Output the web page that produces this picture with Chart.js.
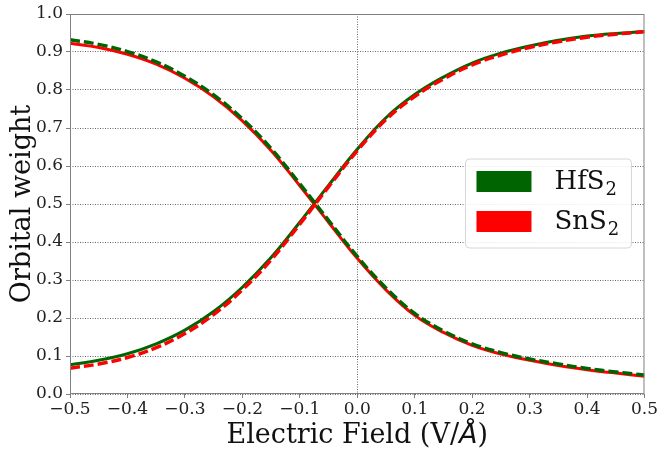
<!DOCTYPE html>
<html>
<head>
<meta charset="utf-8">
<script src="https://cdn.jsdelivr.net/npm/chart.js@4.4.1/dist/chart.umd.min.js"></script>
<style>
    html, body { margin: 0; padding: 0; background: #fff; }
    #wrap { width: 659px; height: 451px; }
</style>
</head>
<body>
<div id="wrap"><canvas id="weightChart" width="659" height="451"></canvas></div>
<script>
// 전기장 (V/Å)
const fields = [-0.5, -0.45, -0.4, -0.35, -0.3, -0.25, -0.2, -0.15, -0.1, -0.05, 0.0,
    0.05, 0.1, 0.15, 0.2, 0.25, 0.3, 0.35, 0.4, 0.45, 0.5];

// 오비탈 가중치 (실선 / 점선)
const hfsRise = [0.077, 0.089, 0.106, 0.132, 0.168, 0.217, 0.281, 0.359, 0.452, 0.549, 0.644,
    0.727, 0.788, 0.834, 0.871, 0.897, 0.916, 0.931, 0.942, 0.949, 0.954];
const snsFall = [0.923, 0.912, 0.894, 0.868, 0.831, 0.782, 0.719, 0.641, 0.548, 0.452, 0.357,
    0.274, 0.207, 0.162, 0.128, 0.105, 0.089, 0.075, 0.064, 0.055, 0.047];
const snsRise = [0.068, 0.079, 0.096, 0.122, 0.159, 0.209, 0.274, 0.353, 0.447, 0.545, 0.640,
    0.722, 0.783, 0.829, 0.866, 0.892, 0.912, 0.927, 0.939, 0.947, 0.953];
const hfsFall = [0.932, 0.920, 0.901, 0.874, 0.836, 0.787, 0.724, 0.646, 0.553, 0.457, 0.362,
    0.279, 0.212, 0.166, 0.132, 0.109, 0.092, 0.079, 0.067, 0.058, 0.050];

const yTicks = [0.0, 0.1, 0.2, 0.3, 0.4, 0.5, 0.6, 0.7, 0.8, 0.9, 1.0];
const legendNames = ['HfS', 'SnS'];

const GREEN = '#006400';
const RED = '#ff0000';
const SERIF = "'DejaVu Serif', serif";

// x, y 배열을 차트 포인트로 변환
function toPoints(ys) {
    return fields.map((x, i) => ({ x: x, y: ys[i] }));
}

function lineSet(label, ys, color, dashed, order) {
    return {
        label: label,
        data: toPoints(ys),
        borderColor: color,
        backgroundColor: color,
        borderWidth: dashed ? 3.5 : 3,
        borderDash: dashed ? [10, 4] : [],
        pointRadius: 0,
        tension: 0.4,
        fill: false,
        order: order
    };
}

// 프레임, 축 제목, 범례 그리기
const decorPlugin = {
    id: 'decor',
    afterDraw(chart) {
        const ctx = chart.ctx;
        const area = chart.chartArea;
        ctx.save();

        // 테두리
        ctx.strokeStyle = '#808080';
        ctx.lineWidth = 1;
        ctx.setLineDash([]);
        ctx.strokeRect(area.left + 0.5, area.top + 0.5, area.right - area.left - 1, area.bottom - area.top - 1);

        // x축 제목 (Å 은 이탤릭)
        ctx.fillStyle = '#111';
        ctx.textBaseline = 'alphabetic';
        ctx.textAlign = 'left';
        const serifFont = '27px ' + SERIF;
        const italicFont = "italic 27px 'DejaVu Sans', sans-serif";
        ctx.font = serifFont;
        const p1 = 'Electric Field (V/';
        const p3 = ')';
        const w1 = ctx.measureText(p1).width;
        const w3 = ctx.measureText(p3).width;
        ctx.font = italicFont;
        const w2 = ctx.measureText('Å').width;
        let x = (area.left + area.right) / 2 - (w1 + w2 + w3) / 2;
        const baseY = 443;
        ctx.font = serifFont;
        ctx.fillText(p1, x, baseY);
        ctx.font = italicFont;
        ctx.fillText('Å', x + w1, baseY);
        ctx.font = serifFont;
        ctx.fillText(p3, x + w1 + w2, baseY);

        // y축 제목
        ctx.save();
        ctx.translate(30, (area.top + area.bottom) / 2);
        ctx.rotate(-Math.PI / 2);
        ctx.textAlign = 'center';
        ctx.font = serifFont;
        ctx.fillText('Orbital weight', 0, 0);
        ctx.restore();

        // 범례 박스
        const bx = area.right - 179;
        const by = area.top + 145;
        const bw = 166;
        const bh = 89;
        const r = 4;
        ctx.beginPath();
        ctx.moveTo(bx + r, by);
        ctx.arcTo(bx + bw, by, bx + bw, by + bh, r);
        ctx.arcTo(bx + bw, by + bh, bx, by + bh, r);
        ctx.arcTo(bx, by + bh, bx, by, r);
        ctx.arcTo(bx, by, bx + bw, by, r);
        ctx.closePath();
        ctx.fillStyle = 'rgba(255,255,255,0.85)';
        ctx.fill();
        ctx.strokeStyle = '#d6d6d6';
        ctx.stroke();

        const colors = [GREEN, RED];
        legendNames.forEach((name, i) => {
            const rowTop = by + 12 + i * 40;
            ctx.fillStyle = colors[i];
            ctx.fillRect(bx + 11, rowTop, 55, 21);
            ctx.fillStyle = '#111';
            ctx.textAlign = 'left';
            ctx.font = '26px ' + SERIF;
            const tx = bx + 89;
            const ty = rowTop + 18;
            ctx.fillText(name, tx, ty);
            const nw = ctx.measureText(name).width;
            ctx.font = '18px ' + SERIF;
            ctx.fillText('2', tx + nw + 1, ty + 6);
        });

        ctx.restore();
    }
};

const ctx = document.getElementById('weightChart').getContext('2d');
const weightChart = new Chart(ctx, {
    type: 'line',
    data: {
        datasets: [
            lineSet('HfS2', hfsRise, GREEN, false, 3),
            lineSet('SnS2', snsFall, RED, false, 2),
            lineSet('SnS2', snsRise, RED, true, 1),
            lineSet('HfS2', hfsFall, GREEN, true, 0)
        ]
    },
    options: {
        responsive: false,
        animation: false,
        devicePixelRatio: 1,
        layout: { padding: { top: 14, right: 13, left: 0, bottom: 0 } },
        plugins: {
            legend: { display: false },
            tooltip: { enabled: false }
        },
        scales: {
            x: {
                type: 'linear',
                min: -0.5,
                max: 0.5,
                afterFit: scale => { scale.height = 57; },
                ticks: {
                    stepSize: 0.1,
                    autoSkip: false,
                    maxRotation: 0,
                    padding: 1,
                    color: '#222',
                    font: { family: SERIF, size: 17 },
                    callback: value => value.toFixed(1).replace('-', '\u2212').replace('\u22120.0', '0.0')
                },
                grid: {
                    color: c => (c.tick && Math.abs(c.tick.value) < 1e-9 ? '#666' : 'rgba(0,0,0,0)'),
                    lineWidth: 1,
                    tickColor: '#808080',
                    tickLength: 4,
                    tickBorderDash: []
                },
                border: { display: false, dash: [1, 1.5] }
            },
            y: {
                min: 0,
                max: 1,
                afterFit: scale => { scale.width = 70; },
                afterBuildTicks: scale => { scale.ticks = yTicks.map(v => ({ value: v })); },
                ticks: {
                    padding: 3,
                    color: '#222',
                    font: { family: SERIF, size: 17 },
                    callback: value => value.toFixed(1)
                },
                grid: {
                    color: '#666',
                    lineWidth: 1,
                    tickColor: '#808080',
                    tickLength: 4,
                    tickBorderDash: []
                },
                border: { display: false, dash: [1, 1.5] }
            }
        }
    },
    plugins: [decorPlugin]
});
</script>
</body>
</html>
